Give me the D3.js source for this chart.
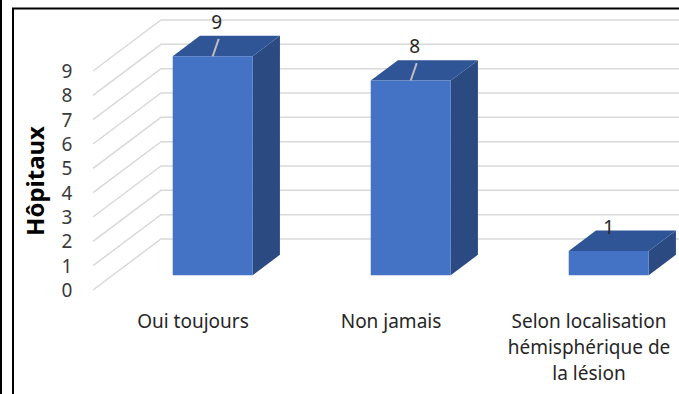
<!DOCTYPE html>
<html><head><meta charset="utf-8">
<script src="https://cdn.jsdelivr.net/npm/d3@7"></script>
<style>html,body{margin:0;padding:0;background:#fff;}svg{display:block;}</style>
</head><body>
<svg id="c" width="679" height="394"></svg>
<script>
const categories = ["Oui toujours", "Non jamais", "Selon localisation hémisphérique de la lésion"];
const values = [9, 8, 1];
const yTicks = [0, 1, 2, 3, 4, 5, 6, 7, 8, 9];
const yTitle = "Hôpitaux";

const svg = d3.select("#c");
const W = 679, H = 394;
svg.append("rect").attr("width", W).attr("height", H).attr("fill", "#fff");

// frame
svg.append("line").attr("x1", 1).attr("x2", 1).attr("y1", 0).attr("y2", H).attr("stroke", "#000").attr("stroke-width", 2);
svg.append("rect").attr("x", 13).attr("y", 8.5).attr("width", 700).attr("height", 500)
  .attr("fill", "none").attr("stroke", "#000").attr("stroke-width", 2);

// scales
const x = d3.scalePoint().domain(categories).range([193, 589]);
const y = d3.scaleLinear().domain([0, 9]).range([290, 71]);
const DX = 68, DY = -51;           // full depth offset
const d0 = 0.29, d1 = 0.69;        // bar depth start/end
const barW = 80;
const P = (px, v, d) => [px + d * DX, y(v) + d * DY];

// gridlines
const gx0 = 93;
const grid = svg.append("g");
yTicks.forEach(t => {
  const a = [gx0, y(t)], b = [gx0 + DX, y(t) + DY];
  grid.append("path")
    .attr("d", `M${a[0]},${a[1]}L${b[0]},${b[1]}L${W + 5},${b[1]}`)
    .attr("fill", "none").attr("stroke", "#D9D9D9").attr("stroke-width", 1.5);
});

// tick labels
svg.append("g").selectAll("text").data(yTicks).join("text")
  .attr("x", 67).attr("y", d => y(d)).attr("dy", "0.36em")
  .attr("text-anchor", "middle")
  .attr("font-family", "Noto Sans").attr("font-size", 19).attr("fill", "#3a3a3a")
  .text(d => d);

// y title
svg.append("text")
  .attr("transform", "translate(35,181) rotate(-90)")
  .attr("text-anchor", "middle").attr("dy", "0.36em")
  .attr("font-family", "Noto Sans").attr("font-weight", "bold").attr("font-size", 24).attr("fill", "#000")
  .text(yTitle);

// bars
const bars = svg.append("g");
const poly = pts => "M" + pts.map(p => p.join(",")).join("L") + "Z";
categories.forEach((c, i) => {
  const v = values[i];
  const cx = x(c);
  const l = cx - barW / 2, r = cx + barW / 2;
  const fTL = P(l, v, d0), fTR = P(r, v, d0), fBR = P(r, 0, d0), fBL = P(l, 0, d0);
  const bTL = P(l, v, d1), bTR = P(r, v, d1), bBR = P(r, 0, d1);
  bars.append("path").attr("d", poly([fTR, bTR, bBR, fBR])).attr("fill", "#2C4A82");
  bars.append("path").attr("d", poly([fTL, bTL, bTR, fTR])).attr("fill", "#2F5597");
  bars.append("path").attr("d", poly([fTL, fTR, fBR, fBL])).attr("fill", "#4472C4");

  const topC = P(cx, v, d0);
  const backTop = bTL[1];
  const small = (fBL[1] - fTL[1]) < 40;
  const lx = topC[0] + (small ? 0 : 4);
  const ly = small ? backTop - 3 : backTop - 14;
  if (!small) {
    bars.append("line").attr("x1", topC[0]).attr("y1", topC[1])
      .attr("x2", lx + 2).attr("y2", ly + 17)
      .attr("stroke", "#BFBFBF").attr("stroke-width", 2);
  }
  bars.append("text").attr("x", lx).attr("y", ly).attr("dy", "0.36em")
    .attr("text-anchor", "middle")
    .attr("font-family", "Noto Sans").attr("font-size", 19).attr("fill", "#262626")
    .text(v);
});

// category labels with wrapping
const catG = svg.append("g");
categories.forEach(c => {
  const t = catG.append("text").attr("x", x(c)).attr("y", 328)
    .attr("text-anchor", "middle")
    .attr("font-family", "Noto Sans").attr("font-size", 19).attr("fill", "#262626");
  const words = c.split(" ");
  let line = [], ln = 0;
  let ts = t.append("tspan").attr("x", x(c)).attr("y", 328);
  words.forEach(w => {
    line.push(w);
    ts.text(line.join(" "));
    if (ts.node().getComputedTextLength() > 172 && line.length > 1) {
      line.pop();
      ts.text(line.join(" "));
      line = [w];
      ln++;
      ts = t.append("tspan").attr("x", x(c)).attr("y", 328 + ln * 26).text(w);
    }
  });
});
</script>
</body></html>
